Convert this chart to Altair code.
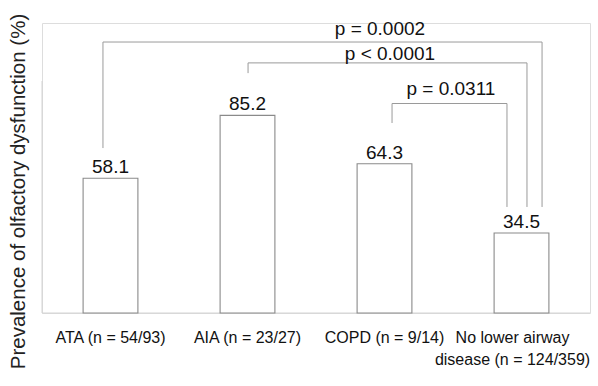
import altair as alt
import pandas as pd

# ---- data ----
categories = ["ATA (n = 54/93)", "AIA (n = 23/27)", "COPD (n = 9/14)",
              "No lower airway|disease (n = 124/359)"]
values = [58.1, 85.2, 64.3, 34.5]
value_labels = ["58.1", "85.2", "64.3", "34.5"]

# significance brackets (x in category units 0..4, y in %)
seg_x1 = [0.445, 0.445, 3.650, 1.504, 1.504, 3.540, 2.555, 2.555, 3.394]
seg_x2 = [0.445, 3.650, 3.650, 1.504, 3.540, 3.540, 2.555, 3.394, 3.394]
seg_y1 = [71.1, 116.8, 116.8, 103.4, 107.8, 107.8, 81.9, 90.3, 90.3]
seg_y2 = [116.8, 116.8, 45.7, 107.8, 107.8, 45.7, 90.3, 90.3, 45.7]

p_texts = ["p = 0.0002", "p < 0.0001", "p = 0.0311"]
p_x = [2.467, 2.540, 2.985]
p_y = [119.8, 109.0, 94.0]

bars_df = pd.DataFrame({"group": categories, "value": values, "label": value_labels})
seg_df = pd.DataFrame({"x1": seg_x1, "x2": seg_x2, "y1": seg_y1, "y2": seg_y2})
p_df = pd.DataFrame({"text": p_texts, "x": p_x, "y": p_y})
axis_df = pd.DataFrame({"x1": [0.0, 0.0], "x2": [0.0, 4.0], "y1": [0.0, 0.0], "y2": [100.0, 0.0]})

FONT = "Liberation Sans"
yscale = alt.Scale(domain=[0, 125], nice=False, zero=True)
band = alt.Scale(domain=categories, paddingInner=0.6, paddingOuter=0.3)
lin = alt.Scale(domain=[0, 4], nice=False, zero=False)

yaxis = alt.Axis(title="Prevalence of olfactory dysfunction (%)", titleFont=FONT,
                 titleFontSize=20.5, titleFontWeight="normal", titleColor="#222",
                 labels=False, ticks=False, domain=False, grid=False,
                 titleX=-14, titleY=168)

xaxis = alt.Axis(title=None, labelAngle=0, labelFont=FONT,
                 labelFontSize=16, labelColor="#111", ticks=False, domain=False,
                 labelPadding=16, labelLineHeight=22,
                 labelOffset={"condition": {"test": "indexof(datum.value, 'No lower') == 0",
                                            "value": -9}, "value": 0},
                 labelExpr="split(datum.label, '|')")

bars = alt.Chart(bars_df).mark_bar(fill="white", stroke="#8a8a8a", strokeWidth=1.1).encode(
    x=alt.X("group:N", scale=band, sort=categories, axis=xaxis),
    y=alt.Y("value:Q", scale=yscale, axis=yaxis),
)
vtext = alt.Chart(bars_df).mark_text(font=FONT, fontSize=19, dy=-5, baseline="alphabetic",
                                     color="#111").encode(
    x=alt.X("group:N", scale=band, sort=categories, axis=xaxis),
    y=alt.Y("value:Q", scale=yscale),
    text="label:N",
)
band_layer = alt.layer(bars, vtext)

axis_rules = alt.Chart(axis_df).mark_rule(color="#d4d4d4", strokeWidth=1).encode(
    x=alt.X("x1:Q", scale=lin, axis=None), x2="x2:Q",
    y=alt.Y("y1:Q", scale=yscale), y2="y2:Q",
)
segs = alt.Chart(seg_df).mark_rule(color="#9a9a9a", strokeWidth=1).encode(
    x=alt.X("x1:Q", scale=lin, axis=None), x2="x2:Q",
    y=alt.Y("y1:Q", scale=yscale), y2="y2:Q",
)
ptext = alt.Chart(p_df).mark_text(font=FONT, fontSize=19, baseline="alphabetic",
                                  color="#111").encode(
    x=alt.X("x:Q", scale=lin, axis=None),
    y=alt.Y("y:Q", scale=yscale),
    text="text:N",
)
lin_layer = alt.layer(axis_rules, segs, ptext)

chart = alt.layer(lin_layer, band_layer).resolve_scale(x="independent").properties(
    width=548, height=290,
    padding={"left": 42, "top": 23, "right": 8, "bottom": 73},
    autosize="none",
).configure_view(stroke=None).configure(background="white")

chart.save("out.html", embed_options={"renderer": "svg", "actions": False})
